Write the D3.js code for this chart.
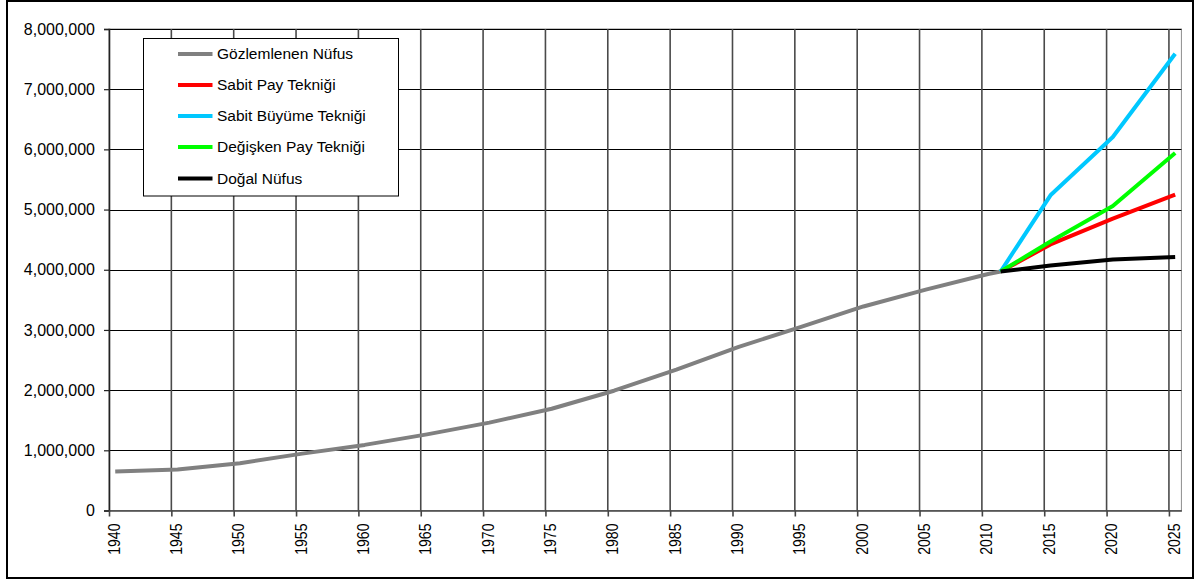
<!DOCTYPE html>
<html>
<head>
<meta charset="utf-8">
<script src="https://cdn.jsdelivr.net/npm/d3@7"></script>
<style>
  html, body { margin: 0; padding: 0; background: #fff; }
  svg { display: block; font-family: "Liberation Sans", Arial, sans-serif; }
</style>
</head>
<body>
<svg id="chart" width="1200" height="580"></svg>
<script>
// ---------------- DATA ----------------
const observedYears = [1940, 1945, 1950, 1955, 1960, 1965, 1970, 1975, 1980, 1985, 1990, 1995, 2000, 2005, 2010, 2011];
const observedValues = [649000, 680000, 785000, 945000, 1090000, 1265000, 1460000, 1690000, 1990000, 2340000, 2720000, 3050000, 3390000, 3670000, 3930000, 3970000];

const projYears = [2011, 2015, 2020, 2025];
const sabitPay = [3970000, 4420000, 4850000, 5250000];
const sabitBuyume = [3970000, 5237000, 6206000, 7590000];
const degiskenPay = [3970000, 4470000, 5060000, 5940000];
const dogalNufus = [3970000, 4070000, 4170000, 4210000];

const seriesNames = ["Gözlemlenen Nüfus", "Sabit Pay Tekniği", "Sabit Büyüme Tekniği", "Değişken Pay Tekniği", "Doğal Nüfus"];
const seriesColors = ["#808080", "#ff0000", "#00c8ff", "#00ff00", "#000000"];

const yTicks = [0, 1000000, 2000000, 3000000, 4000000, 5000000, 6000000, 7000000, 8000000];
const xTickYears = [1940, 1945, 1950, 1955, 1960, 1965, 1970, 1975, 1980, 1985, 1990, 1995, 2000, 2005, 2010, 2015, 2020, 2025];

// ---------------- LAYOUT ----------------
const svg = d3.select("#chart");
const plot = { left: 109, right: 1181.4, top: 29, bottom: 510.5 };

// category axis: each year is a slot; points sit in the middle of their slot
const x = d3.scaleLinear().domain([1940, 2026]).range([plot.left, plot.right]);
const y = d3.scaleLinear().domain([0, 8000000]).range([plot.bottom, plot.top]);
const xc = yr => x(yr + 0.5);

// outer frame
svg.append("rect")
  .attr("x", 7).attr("y", 1).attr("width", 1186).attr("height", 577)
  .attr("fill", "#fff").attr("stroke", "#000").attr("stroke-width", 2);

// plot border (top/right gray)
svg.append("rect")
  .attr("x", plot.left).attr("y", plot.top)
  .attr("width", plot.right - plot.left).attr("height", plot.bottom - plot.top)
  .attr("fill", "none").attr("stroke", "#8c8c8c").attr("stroke-width", 1);

// horizontal gridlines
svg.append("g").selectAll("line")
  .data(yTicks.filter(d => d > 0))
  .join("line")
  .attr("x1", plot.left).attr("x2", plot.right)
  .attr("y1", d => Math.round(y(d)) + 0.5).attr("y2", d => Math.round(y(d)) + 0.5)
  .attr("stroke", "#000").attr("stroke-width", 1.2);

// vertical gridlines
svg.append("g").selectAll("line")
  .data(xTickYears.filter(d => d > 1940))
  .join("line")
  .attr("x1", d => x(d)).attr("x2", d => x(d))
  .attr("y1", plot.top).attr("y2", plot.bottom)
  .attr("stroke", "#4a4a4a").attr("stroke-width", 1.6);

// Y axis
const yAxis = svg.append("g")
  .attr("transform", `translate(${plot.left},0)`)
  .call(d3.axisLeft(y).tickValues(yTicks).tickFormat(d3.format(",")).tickSize(5).tickPadding(9));
yAxis.select(".domain").attr("stroke", "#222").attr("stroke-width", 1.6);
yAxis.selectAll(".tick line").attr("stroke", "#222").attr("stroke-width", 1.2);
yAxis.selectAll("text").attr("font-size", 16).attr("fill", "#000")
  .attr("font-family", "Liberation Sans, Arial, sans-serif");

// X axis
const xAxis = svg.append("g")
  .attr("transform", `translate(0,${plot.bottom})`)
  .call(d3.axisBottom(x).tickValues(xTickYears).tickFormat(d3.format("d")).tickSize(6).tickSizeOuter(0));
xAxis.select(".domain").attr("stroke", "#444").attr("stroke-width", 1.6);
xAxis.selectAll(".tick line").attr("stroke", "#444").attr("stroke-width", 1.6);
xAxis.selectAll("text")
  .attr("font-size", 16).attr("fill", "#000")
  .attr("font-family", "Liberation Sans, Arial, sans-serif")
  .attr("text-anchor", "end")
  .attr("transform", "rotate(-90) scale(0.88,1)")
  .attr("x", -13 / 0.88)
  .attr("y", 4.5)
  .attr("dy", "0.35em");

// lines
const line = d3.line().x(d => xc(d[0])).y(d => y(d[1]));
const allSeries = [
  observedYears.map((yr, i) => [yr, observedValues[i]]),
  projYears.map((yr, i) => [yr, sabitPay[i]]),
  projYears.map((yr, i) => [yr, sabitBuyume[i]]),
  projYears.map((yr, i) => [yr, degiskenPay[i]]),
  projYears.map((yr, i) => [yr, dogalNufus[i]])
];
svg.append("g").selectAll("path")
  .data(allSeries)
  .join("path")
  .attr("d", line)
  .attr("fill", "none")
  .attr("stroke", (d, i) => seriesColors[i])
  .attr("stroke-width", 4)
  .attr("stroke-linejoin", "round");

// legend
const lg = svg.append("g");
lg.append("rect")
  .attr("x", 143.5).attr("y", 38.5).attr("width", 255).attr("height", 157.5)
  .attr("fill", "#fff").attr("stroke", "#000").attr("stroke-width", 1);
const rowY = [54, 85, 116, 147, 178.5];
const items = lg.selectAll("g.item").data(seriesNames).join("g").attr("class", "item")
  .attr("transform", (d, i) => `translate(0,${rowY[i]})`);
items.append("line")
  .attr("x1", 178).attr("x2", 212.5).attr("y1", 0).attr("y2", 0)
  .attr("stroke", (d, i) => seriesColors[i]).attr("stroke-width", 4);
items.append("text")
  .attr("x", 217).attr("y", 0).attr("dy", "0.35em")
  .attr("font-size", 15.5).attr("fill", "#000")
  .text(d => d);
</script>
</body>
</html>
